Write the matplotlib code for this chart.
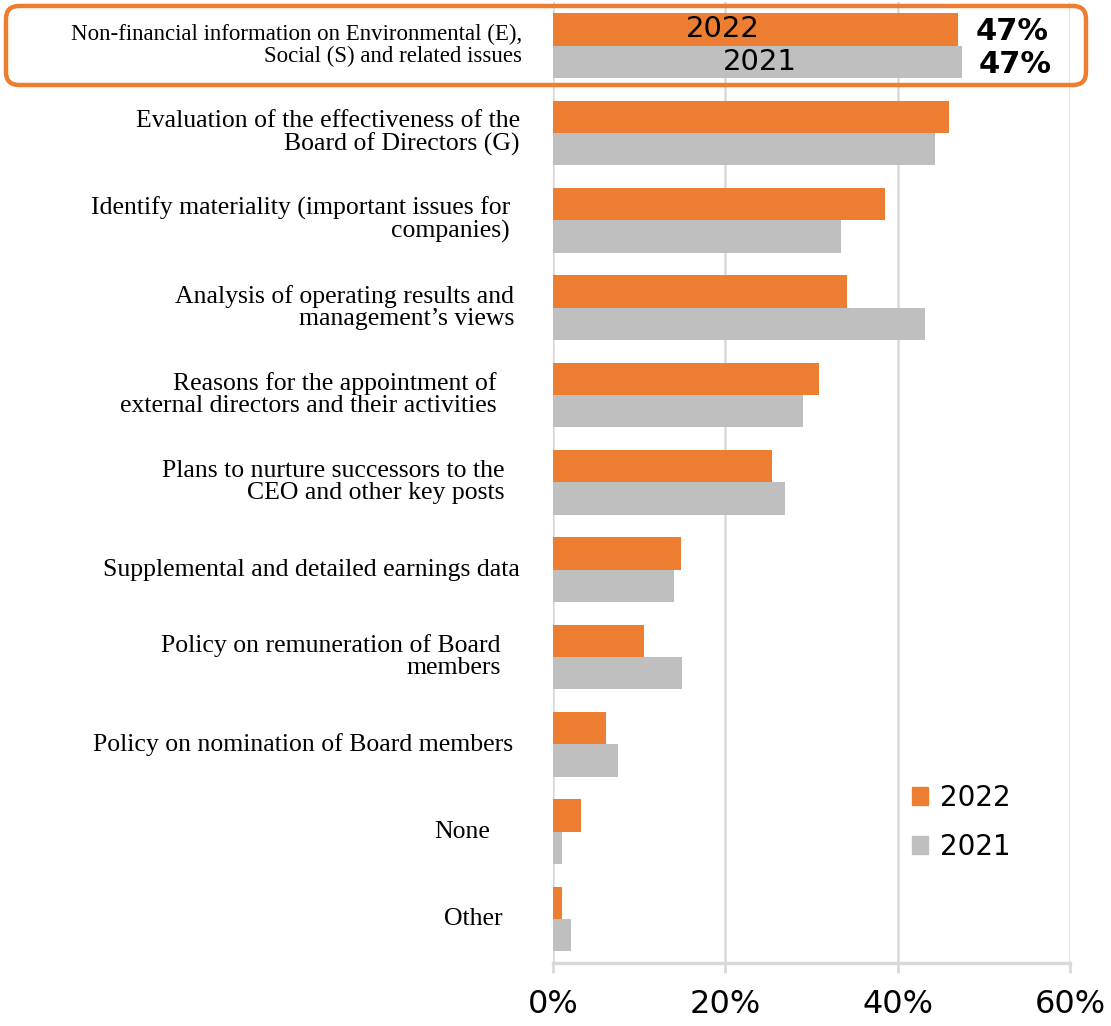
import matplotlib
matplotlib.use("Agg")
import numpy as np
import matplotlib.pyplot as plt
from matplotlib.patches import FancyBboxPatch, Patch
from matplotlib.transforms import ScaledTranslation, blended_transform_factory

# Items disclosed (share of respondents, %), top to bottom
categories = [
    "Non-financial information on Environmental (E),\nSocial (S) and related issues",
    "Evaluation of the effectiveness of the\nBoard of Directors (G)",
    "Identify materiality (important issues for\ncompanies)",
    "Analysis of operating results and\nmanagement\u2019s views",
    "Reasons for the appointment of\nexternal directors and their activities",
    "Plans to nurture successors to the\nCEO and other key posts",
    "Supplemental and detailed earnings data",
    "Policy on remuneration of Board\nmembers",
    "Policy on nomination of Board members",
    "None",
    "Other",
]
valeurs_2022 = [47, 45.9, 38.5, 34.1, 30.9, 25.4, 14.9, 10.6, 6.2, 3.2, 1.0]
valeurs_2021 = [47.4, 44.3, 33.4, 43.1, 29.0, 26.9, 14.0, 15.0, 7.5, 1.0, 2.1]
ticks_x = [0, 20, 40, 60]
labels_x = ["0%", "20%", "40%", "60%"]

orange = "#ED7D31"
gris = "#BFBFBF"
grille = "#D9D9D9"

# distance (px) between the label's right edge and the 0% line
decalage_labels = [31, 33, 43, 39, 56, 48, 33, 52, 40, 63, 50]

fig = plt.figure(figsize=(11.11, 10.26), dpi=100)
ax = fig.add_axes([0.4977, 0.0617, 0.4658, 0.9365])

y = np.arange(len(categories))
h = 0.37
ax.barh(y - h / 2, valeurs_2022, height=h, color=orange, label="2022", zorder=3)
ax.barh(y + h / 2, valeurs_2021, height=h, color=gris, label="2021", zorder=3)

ax.set_xlim(0, 60)
ax.set_ylim(len(categories) - 0.5, -0.5)
ax.set_xticks(ticks_x)
ax.set_xticklabels(labels_x, fontsize=23, family="DejaVu Sans")
ax.set_yticks([])
ax.grid(axis="x", color=grille, linewidth=1.8, zorder=0)
for s in ["top", "right", "left"]:
    ax.spines[s].set_visible(False)
ax.spines["bottom"].set_color(grille)
ax.spines["bottom"].set_linewidth(2.5)
ax.tick_params(axis="x", length=7, width=2, color=grille, pad=12)

# category labels, right aligned left of the axis
base = blended_transform_factory(ax.transAxes, ax.transData)
for i, (texte, d) in enumerate(zip(categories, decalage_labels)):
    taille = 16.5 if i == 0 else 18.5
    tr = base + ScaledTranslation(-d / 100, 0, fig.dpi_scale_trans)
    ax.text(0, i, texte, transform=tr, ha="right", va="center",
            multialignment="right", fontsize=taille,
            family="Liberation Serif", linespacing=1.0)

# year labels inside the first pair and value labels on the right
ax.text(19.7, -h / 2, "2022", ha="center", va="center", fontsize=21, zorder=4)
ax.text(24.0, h / 2, "2021", ha="center", va="center", fontsize=21, zorder=4)
ax.text(valeurs_2022[0] + 2, -h / 2 + 0.03, f"{valeurs_2022[0]:.0f}%", ha="left",
        va="center", fontsize=22, fontweight="bold", zorder=4)
ax.text(valeurs_2021[0] + 2, h / 2 + 0.03, f"{round(valeurs_2021[0]):.0f}%",
        ha="left", va="center", fontsize=22, fontweight="bold", zorder=4)

# highlight frame around the first item
cadre = FancyBboxPatch((0.06, (1026 - 85) / 100), 10.8, 0.79,
                       boxstyle="round,pad=0,rounding_size=0.13",
                       transform=fig.dpi_scale_trans, fill=False,
                       edgecolor=orange, linewidth=3.2, zorder=10)
fig.add_artist(cadre)

poignees = [Patch(color=orange, label="2022"), Patch(color=gris, label="2021")]
ax.legend(handles=poignees, loc="upper left", bbox_to_anchor=(0.645, 0.212),
          frameon=False, fontsize=20, handlelength=0.6, handleheight=0.6,
          handletextpad=0.4, labelspacing=0.75)

fig.savefig("out.png", dpi=100)
